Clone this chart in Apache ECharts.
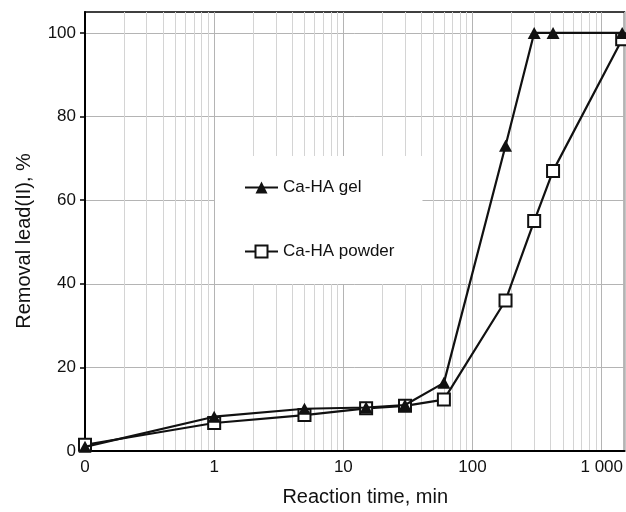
<!DOCTYPE html>
<html>
<head>
<meta charset="utf-8">
<script src="https://cdn.jsdelivr.net/npm/echarts@6/dist/echarts.min.js"></script>
<style>
html,body{margin:0;padding:0;background:#fff;}
#chart{width:626px;height:512px;}
</style>
</head>
<body>
<div id="chart"></div>
<script>
// Reaction time (min); the first point (t = 0) is placed at the log-axis origin 0.1
var times = [0.1, 1, 5, 15, 30, 60, 180, 300, 420, 1440];
var gelValues = [1.0, 8.2, 10.1, 10.4, 11.0, 16.3, 73, 100, 100, 100];
var powderValues = [1.5, 6.7, 8.6, 10.2, 10.8, 12.3, 36, 55, 67, 98.5];
var xTickValues = [0.1, 1, 10, 100, 1000];
var xTickLabels = ['0', '1', '10', '100', '1 000'];
var yTickValues = [0, 20, 40, 60, 80, 100];
var minorXLines = [0.2,0.3,0.4,0.5,0.6,0.7,0.8,0.9,
                   2,3,4,5,6,7,8,9,
                   20,30,40,50,60,70,80,90,
                   200,300,400,500,600,700,800,900];
var seriesNames = ['Ca-HA gel', 'Ca-HA powder'];

var FONT = '"Liberation Sans", Arial, Helvetica, sans-serif';

function pairs(xs, ys) {
  var out = [];
  for (var i = 0; i < xs.length; i++) out.push([xs[i], ys[i]]);
  return out;
}

var chart = echarts.init(document.getElementById('chart'), null, {renderer: 'canvas'});
chart.setOption({
  animation: false,
  backgroundColor: '#fff',
  textStyle: {fontFamily: FONT},
  grid: {
    left: 85, right: 1.5, top: 12, bottom: 59,
    show: true, borderColor: '#000', borderWidth: 1.5, backgroundColor: 'transparent'
  },
  legend: {
    data: seriesNames,
    orient: 'vertical',
    left: 215, top: 156,
    padding: [23, 28, 24, 29],
    itemGap: 47,
    itemWidth: 33,
    itemHeight: 15,
    backgroundColor: '#fff',
    borderWidth: 0,
    z: 10,
    textStyle: {fontFamily: FONT, fontSize: 17, color: '#111'}
  },
  xAxis: {
    type: 'log',
    logBase: 10,
    min: 0.1,
    max: 1500,
    name: 'Reaction time, min',
    nameLocation: 'middle',
    nameGap: 36,
    nameTextStyle: {fontFamily: FONT, fontSize: 20, color: '#111', padding: [0, 0, 0, 21]},
    axisLine: {show: true, onZero: false, lineStyle: {color: '#000', width: 2}},
    axisTick: {show: false},
    axisLabel: {
      customValues: xTickValues,
      fontFamily: FONT, fontSize: 17, color: '#111', margin: 8,
      formatter: function (v) {
        for (var i = 0; i < xTickValues.length; i++) {
          if (Math.abs(Math.log10(v) - Math.log10(xTickValues[i])) < 1e-6) return xTickLabels[i];
        }
        return '';
      }
    },
    splitLine: {show: true, lineStyle: {color: '#b4b4b4', width: 1}}
  },
  yAxis: {
    type: 'value',
    min: 0,
    max: 105,
    interval: 20,
    name: 'Removal lead(II), %',
    nameLocation: 'middle',
    nameGap: 51,
    nameTextStyle: {fontFamily: FONT, fontSize: 20, color: '#111', padding: [0, 19, 0, 0]},
    axisLine: {show: true, lineStyle: {color: '#000', width: 2}},
    axisTick: {show: true, customValues: yTickValues, length: 5, lineStyle: {color: '#000', width: 1.5}},
    axisLabel: {customValues: yTickValues, fontFamily: FONT, fontSize: 17, color: '#111', margin: 9},
    splitLine: {show: true, lineStyle: {color: '#b4b4b4', width: 1}}
  },
  series: [
    {
      name: 'minor',
      type: 'line',
      data: [],
      z: 0,
      silent: true,
      markLine: {
        z: 0,
        silent: true,
        symbol: ['none', 'none'],
        label: {show: false},
        lineStyle: {color: '#d4d4d4', width: 1, type: 'solid'},
        emphasis: {disabled: true},
        data: minorXLines.map(function (v) { return {xAxis: v}; })
      }
    },
    {
      name: seriesNames[1],
      type: 'line',
      data: pairs(times, powderValues),
      z: 3,
      clip: false,
      symbol: 'rect',
      symbolSize: 12,
      lineStyle: {color: '#111', width: 2.2},
      itemStyle: {color: '#fff', borderColor: '#111', borderWidth: 2}
    },
    {
      name: seriesNames[0],
      type: 'line',
      data: pairs(times, gelValues),
      z: 4,
      clip: false,
      symbol: 'triangle',
      symbolSize: [13, 12],
      lineStyle: {color: '#111', width: 2.2},
      itemStyle: {color: '#111', borderColor: '#111', borderWidth: 0}
    }
  ]
});
</script>
</body>
</html>
